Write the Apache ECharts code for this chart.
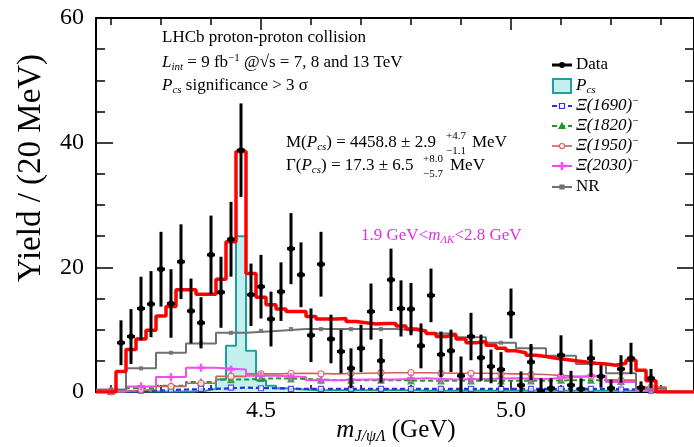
<!DOCTYPE html>
<html>
<head>
<meta charset="utf-8">
<script src="https://cdn.jsdelivr.net/npm/echarts@6/dist/echarts.min.js"></script>
<style>
html, body { margin: 0; padding: 0; background: #fff; }
#chart { width: 694px; height: 447px; }
</style>
</head>
<body>
<div id="chart"></div>
<script>
// m(J/psi Lambda) bin centres, 20 MeV bins (GeV)
const massBins = [4.22, 4.24, 4.26, 4.28, 4.30, 4.32, 4.34, 4.36, 4.38, 4.40,
  4.42, 4.44, 4.46, 4.48, 4.50, 4.52, 4.54, 4.56, 4.58, 4.60,
  4.62, 4.64, 4.66, 4.68, 4.70, 4.72, 4.74, 4.76, 4.78, 4.80,
  4.82, 4.84, 4.86, 4.88, 4.90, 4.92, 4.94, 4.96, 4.98, 5.00,
  5.02, 5.04, 5.06, 5.08, 5.10, 5.12, 5.14, 5.16, 5.18, 5.20,
  5.22, 5.24, 5.26, 5.28];

// Signal-weighted yields and their uncertainties
const dataYield = [7.9, 8.9, 13.4, 14.1, 19.7, 14.2, 20.9, 13.0, 11.1, 22.0,
  16.0, 24.5, 38.8, 15.6, 16.9, 11.7, 16.1, 23.0, 18.8, 9.1,
  20.5, 8.5, 6.5, 3.8, 7.0, 12.9, 5.0, 18.0, 13.4, 13.3,
  7.4, 15.5, 6.0, 6.6, 2.6, 8.9, 5.5, 4.1, 3.6, 12.6,
  1.1, 4.8, 0.2, 0.6, 5.9, 1.1, 0.5, 5.4, 2.5, 0.6,
  3.7, 5.4, 0.7, 2.2];
const dataError = [3.6, 4.4, 5.1, 5.3, 6.0, 5.5, 6.0, 5.2, 4.1, 6.3,
  5.7, 6.0, 7.5, 5.0, 5.1, 4.4, 4.7, 5.7, 5.2, 4.3,
  5.2, 3.9, 3.5, 3.2, 3.8, 4.5, 3.5, 5.0, 4.5, 4.2,
  3.6, 4.3, 3.6, 3.4, 3.1, 3.8, 3.7, 2.7, 2.8, 4.0,
  2.2, 2.9, 2.0, 1.6, 3.2, 2.3, 1.7, 3.0, 1.8, 1.4,
  2.2, 2.5, 1.0, 1.5];

// Total fit projection (20 MeV bins)
const totalFit = [3.3, 6.8, 8.5, 9.9, 12.2, 13.7, 16.4, 16.4, 15.7, 15.7,
  18.1, 24.1, 38.6, 19.0, 15.2, 14.0, 13.3, 12.9, 12.9, 12.1,
  11.7, 11.7, 11.8, 11.3, 11.1, 10.9, 11.0, 11.0, 10.6, 10.1,
  9.8, 9.4, 8.9, 9.2, 8.5, 7.9, 8.1, 7.5, 7.0, 6.6,
  6.3, 5.9, 5.7, 5.4, 5.2, 5.0, 4.8, 4.6, 4.5, 4.3,
  4.6, 5.1, 3.5, 1.8];

// Pcs component (20 MeV bins)
const pcsYield = [0.1, 0.1, 0.1, 0.1, 0.1, 0.1, 0.1, 0.1, 0.2, 0.5,
  2.0, 7.4, 25.0, 6.6, 1.9, 1.0, 0.6, 0.5, 0.4, 0.3,
  0.3, 0.3, 0.3, 0.3, 0.3, 0.3, 0.3, 0.3, 0.3, 0.3,
  0.2, 0.2, 0.2, 0.2, 0.2, 0.2, 0.2, 0.2, 0.2, 0.2,
  0.2, 0.2, 0.2, 0.2, 0.2, 0.2, 0.2, 0.2, 0.2, 0.2,
  0.2, 0.2, 0.2, 0.2];

// Edges of the 60 MeV bins used for the background components (GeV)
const coarseEdges = [4.17, 4.23, 4.29, 4.35, 4.41, 4.47, 4.53, 4.59, 4.65, 4.71,
  4.77, 4.83, 4.89, 4.95, 5.01, 5.07, 5.13, 5.19, 5.25, 5.31];

const xi1690 = [0.0, 0.2, 0.4, 0.5, 0.7, 0.6, 0.5, 0.5, 0.5, 0.5, 0.5, 0.5, 0.5, 0.5, 0.5, 0.5, 0.5, 0.4, 0.2];
const xi1820 = [0.1, 0.6, 1.0, 1.6, 2.0, 2.2, 2.1, 1.9, 1.9, 1.9, 1.8, 1.8, 1.8, 1.8, 1.8, 1.9, 1.9, 1.7, 0.5];
const xi1950 = [0.1, 0.4, 0.9, 1.4, 2.5, 2.9, 3.0, 2.9, 3.0, 3.1, 3.1, 3.0, 3.0, 2.9, 2.8, 2.5, 2.5, 1.9, 0.8];
const xi2030 = [0.1, 0.9, 2.4, 3.9, 3.6, 2.6, 2.4, 1.9, 2.0, 2.0, 2.2, 2.0, 2.1, 2.2, 2.1, 2.4, 2.6, 1.6, 0.3];
const nonRes = [0.4, 3.8, 6.3, 7.8, 9.5, 9.8, 10.1, 10.1, 10.1, 10.1, 9.8, 9.4, 8.8, 7.9, 7.0, 5.8, 4.5, 3.0, 0.6];

// Axis ticks
const xMajorTicks = [4.5, 5.0];
const xMinorTicks = [4.2, 4.3, 4.4, 4.6, 4.7, 4.8, 4.9, 5.1, 5.2, 5.3];

const X_MIN = 4.17, X_MAX = 5.366;
const SERIF = "'Liberation Serif', 'DejaVu Serif', 'Times New Roman', serif";

// Histogram outline for the 20 MeV bins, with a flat zero line outside the fit range
function fineSteps(vals) {
  const half = (massBins[1] - massBins[0]) / 2;
  const pts = [[X_MIN, 0]];
  massBins.forEach((c, i) => pts.push([c - half, vals[i]]));
  pts.push([massBins[massBins.length - 1] + half, 0]);
  pts.push([X_MAX, 0]);
  return pts;
}
// Histogram outline for the 60 MeV bins
function coarseSteps(vals) {
  const pts = vals.map((v, i) => [coarseEdges[i], v]);
  pts.push([coarseEdges[coarseEdges.length - 1], 0]);
  return pts;
}
function coarseMarkers(vals) {
  return vals.map((v, i) => [(coarseEdges[i] + coarseEdges[i + 1]) / 2, v]);
}

const components = [
  { name: 'Ξ(1690)', vals: xi1690, color: '#2a2aff', width: 2.2, dash: [5, 3],
    symbol: 'rect', size: 5, fill: '#ffffff' },
  { name: 'Ξ(1820)', vals: xi1820, color: '#1f9a1f', width: 2, dash: [5, 3],
    symbol: 'triangle', size: 6, fill: '#1f9a1f' },
  { name: 'Ξ(1950)', vals: xi1950, color: '#d35c5c', width: 1.6, dash: null,
    symbol: 'circle', size: 6, fill: '#ffffff' },
  { name: 'Ξ(2030)', vals: xi2030, color: '#f04ef0', width: 2, dash: null,
    symbol: 'path://M2,0H3V2H5V3H3V5H2V3H0V2H2Z', size: 7, fill: '#f04ef0' },
  { name: 'NR', vals: nonRes, color: '#707070', width: 2, dash: null,
    symbol: 'rect', size: 3, fill: '#707070' }
];

const series = [];

series.push({
  name: 'Pcs', type: 'line', step: 'end', data: fineSteps(pcsYield),
  showSymbol: false, z: 2,
  lineStyle: { color: '#1fa0a0', width: 2 },
  areaStyle: { color: '#c3efef', opacity: 1 }
});

components.forEach((c, k) => {
  series.push({
    name: c.name, type: 'line', step: 'end', data: coarseSteps(c.vals),
    showSymbol: false, z: 3 + k * 0.01,
    lineStyle: { color: c.color, width: c.width, type: c.dash || 'solid' }
  });
  series.push({
    name: c.name + ' markers', type: 'scatter', data: coarseMarkers(c.vals),
    symbol: c.symbol, symbolSize: c.size, z: 3.5,
    itemStyle: { color: c.fill, borderColor: c.color, borderWidth: 1.2 }
  });
});

series.push({
  name: 'Total', type: 'line', step: 'end', data: fineSteps(totalFit),
  showSymbol: false, z: 5,
  lineStyle: { color: '#ff0000', width: 3.5 }
});

series.push({
  name: 'Data', type: 'custom', z: 8, clip: true,
  data: massBins.map((m, i) => [m, dataYield[i], dataError[i]]),
  encode: { x: 0, y: 1 },
  renderItem: function (params, api) {
    const x = api.value(0), y = api.value(1), e = api.value(2);
    const c = api.coord([x, y]);
    const hi = api.coord([x, y + e]);
    const lo = api.coord([x, y - e]);
    const half = api.size([0.008, 0])[0];
    return {
      type: 'group',
      children: [
        { type: 'line', shape: { x1: c[0], y1: hi[1], x2: c[0], y2: lo[1] },
          style: { stroke: '#000', lineWidth: 3 } },
        { type: 'line', shape: { x1: c[0] - half, y1: c[1], x2: c[0] + half, y2: c[1] },
          style: { stroke: '#000', lineWidth: 3 } },
        { type: 'circle', shape: { cx: c[0], cy: c[1], r: 3 }, style: { fill: '#000' } }
      ]
    };
  }
});

// Text helpers
function rich(size, color) {
  return {
    r: { fontFamily: SERIF, fontSize: size, fill: color },
    i: { fontFamily: SERIF, fontSize: size, fontStyle: 'italic', fill: color },
    s: { fontFamily: SERIF, fontSize: Math.round(size * 0.62), fontStyle: 'italic', fill: color, padding: [Math.round(size * 0.55), 0, 0, 0] },
    u: { fontFamily: SERIF, fontSize: Math.round(size * 0.62), fill: color, padding: [0, 0, Math.round(size * 0.6), 0] }
  };
}
function txt(x, y, text, size, opts) {
  opts = opts || {};
  const color = opts.color || '#000';
  return {
    type: 'text', x: x, y: y, rotation: opts.rotation || 0, z: 20,
    style: {
      text: text, fontFamily: SERIF, fontSize: size, fill: color,
      align: opts.align || 'left', verticalAlign: 'middle',
      rich: rich(size, color)
    }
  };
}

const graphics = [];
// Header text
graphics.push(txt(162, 38, '{r|LHCb proton-proton collision}', 17));
graphics.push(txt(162, 63, '{i|L}{s|int}{r| = 9 fb}{u|−1}{r| @√s = 7, 8 and 13 TeV}', 17));
graphics.push(txt(162, 86, '{i|P}{s|cs}{r| significance > 3 σ}', 17));

// Fit results
graphics.push(txt(286, 143, '{r|M(}{i|P}{s|cs}{r|) = 4458.8 ± 2.9}', 17));
graphics.push(txt(446, 136, '+4.7', 11));
graphics.push(txt(446, 151, '−1.1', 11));
graphics.push(txt(472, 143, 'MeV', 17));
graphics.push(txt(286, 166, '{r|Γ(}{i|P}{s|cs}{r|) = 17.3 ± 6.5}', 17));
graphics.push(txt(423, 159, '+8.0', 11));
graphics.push(txt(423, 174, '−5.7', 11));
graphics.push(txt(450, 166, 'MeV', 17));

// Selection note
graphics.push(txt(361, 236, '{r|1.9 GeV<}{i|m}{s|ΛK}{r|<2.8 GeV}', 17, { color: '#e030e0' }));

// Axis titles
graphics.push(txt(396, 430, '{i|m}{s|J/ψΛ}{r| (GeV)}', 25, { align: 'center' }));
graphics.push(txt(31, 168, '{r|Yield / (20 MeV)}', 33, { align: 'center', rotation: Math.PI / 2 }));

// Legend
const legendX = 552, legendText = 576;
const legendY = [65, 86, 106, 126, 146, 166, 187];
graphics.push({ type: 'line', z: 20, shape: { x1: legendX, y1: legendY[0], x2: legendX + 20, y2: legendY[0] }, style: { stroke: '#000', lineWidth: 3 } });
graphics.push({ type: 'circle', z: 21, shape: { cx: legendX + 10, cy: legendY[0], r: 3 }, style: { fill: '#000' } });
graphics.push(txt(legendText, legendY[0], 'Data', 17));
graphics.push({ type: 'rect', z: 20, shape: { x: legendX + 1, y: legendY[1] - 7, width: 18, height: 14 }, style: { fill: '#c3efef', stroke: '#1fa0a0', lineWidth: 2 } });
graphics.push(txt(legendText, legendY[1], '{i|P}{s|cs}', 17));
components.forEach((c, k) => {
  const y = legendY[k + 2];
  graphics.push({ type: 'line', z: 20, shape: { x1: legendX, y1: y, x2: legendX + 20, y2: y },
    style: { stroke: c.color, lineWidth: c.width, lineDash: c.dash || null } });
  let marker;
  if (c.symbol === 'rect') {
    const s = Math.max(c.size, 4);
    marker = { type: 'rect', shape: { x: legendX + 10 - s / 2, y: y - s / 2, width: s, height: s } };
  } else if (c.symbol === 'triangle') {
    marker = { type: 'polygon', shape: { points: [[legendX + 10, y - 3], [legendX + 13, y + 2.5], [legendX + 7, y + 2.5]] } };
  } else if (c.symbol === 'circle') {
    marker = { type: 'circle', shape: { cx: legendX + 10, cy: y, r: 2.5 } };
  } else {
    marker = { type: 'polygon', shape: { points: [[legendX + 9.3, y - 3.5], [legendX + 10.7, y - 3.5], [legendX + 10.7, y - 0.7], [legendX + 13.5, y - 0.7], [legendX + 13.5, y + 0.7], [legendX + 10.7, y + 0.7], [legendX + 10.7, y + 3.5], [legendX + 9.3, y + 3.5], [legendX + 9.3, y + 0.7], [legendX + 6.5, y + 0.7], [legendX + 6.5, y - 0.7], [legendX + 9.3, y - 0.7]] } };
  }
  marker.z = 21;
  marker.style = { fill: c.fill, stroke: c.color, lineWidth: 1.2 };
  graphics.push(marker);
  const label = c.name === 'NR' ? '{r|NR}' : '{i|' + c.name + '}{u|−}';
  graphics.push(txt(legendText, y, label, 17));
});

const axisLine = { show: true, lineStyle: { color: '#000', width: 2 } };
function xAxisDef(position, major, showLabels) {
  return {
    type: 'value', min: X_MIN, max: X_MAX, position: position,
    axisLine: major ? axisLine : { show: false },
    axisTick: { show: true, inside: true, customValues: major ? xMajorTicks : xMinorTicks,
      length: major ? 12 : 7, lineStyle: { color: '#000', width: 1.5 } },
    axisLabel: { show: showLabels, customValues: xMajorTicks, formatter: v => v.toFixed(1),
      fontFamily: SERIF, fontSize: 24, color: '#000', margin: 7 },
    splitLine: { show: false }
  };
}
function yAxisDef(position, showLabels) {
  return {
    type: 'value', min: 0, max: 60, interval: 20, position: position,
    axisLine: axisLine,
    axisTick: { show: true, inside: true, length: 17, lineStyle: { color: '#000', width: 1.5 } },
    minorTick: { show: true, splitNumber: 4, length: 9, lineStyle: { color: '#000', width: 1.5 } },
    axisLabel: { show: showLabels, fontFamily: SERIF, fontSize: 24, color: '#000', margin: 12 },
    splitLine: { show: false }, minorSplitLine: { show: false }
  };
}

const chart = echarts.init(document.getElementById('chart'), null, { renderer: 'canvas' });
chart.setOption({
  animation: false,
  backgroundColor: '#ffffff',
  grid: { left: 96, right: 0, top: 18, bottom: 55, containLabel: false },
  xAxis: [
    xAxisDef('bottom', true, true),
    xAxisDef('bottom', false, false),
    xAxisDef('top', true, false),
    xAxisDef('top', false, false)
  ],
  yAxis: [yAxisDef('left', true), yAxisDef('right', false)],
  series: series,
  graphic: graphics
});
</script>
</body>
</html>
